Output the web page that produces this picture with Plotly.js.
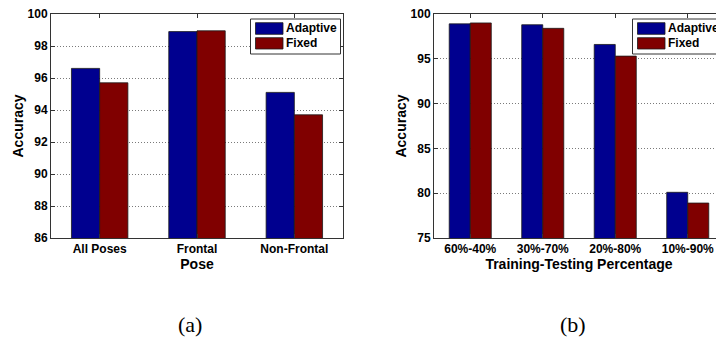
<!DOCTYPE html>
<html>
<head>
<meta charset="utf-8">
<script src="https://cdn.plot.ly/plotly-3.0.1.min.js"></script>
<style>
  html, body { margin: 0; padding: 0; overflow: hidden; background: #fff; }
  #chart { width: 730px; height: 337px; }
</style>
</head>
<body>
<div id="chart"></div>
<script>
// (a) accuracy by pose group
const poseCats = ['All Poses', 'Frontal', 'Non-Frontal'];
const poseAdaptive = [96.6, 98.9, 95.1];
const poseFixed = [95.7, 98.95, 93.7];
const poseTicks = [86, 88, 90, 92, 94, 96, 98, 100];

// (b) accuracy by training/testing split
const splitCats = ['60%-40%', '30%-70%', '20%-80%', '10%-90%'];
const splitAdaptive = [98.9, 98.8, 96.6, 80.1];
const splitFixed = [99.0, 98.4, 95.3, 78.9];
const splitTicks = [75, 80, 85, 90, 95, 100];

const seriesNames = ['Adaptive', 'Fixed'];
const seriesColors = ['#00008f', '#800000'];

const W = 730, H = 337;
const px = v => v / W;
const py = v => 1 - v / H;

const FONT = 'Liberation Sans, Arial, sans-serif';
const edge = { color: '#1a1a1a', width: 0.8 };

const traces = [
  { type: 'bar', x: poseCats, y: poseAdaptive, name: seriesNames[0], xaxis: 'x', yaxis: 'y',
    marker: { color: seriesColors[0], line: edge } },
  { type: 'bar', x: poseCats, y: poseFixed, name: seriesNames[1], xaxis: 'x', yaxis: 'y',
    marker: { color: seriesColors[1], line: edge } },
  { type: 'bar', x: splitCats, y: splitAdaptive, name: seriesNames[0], xaxis: 'x2', yaxis: 'y2',
    marker: { color: seriesColors[0], line: edge } },
  { type: 'bar', x: splitCats, y: splitFixed, name: seriesNames[1], xaxis: 'x2', yaxis: 'y2',
    marker: { color: seriesColors[1], line: edge } }
];

const tickFont = { family: FONT, size: 12, color: '#000', weight: 'bold' };
const titleFont = { family: FONT, size: 14, color: '#000', weight: 'bold' };

function xAxis(domain, anchor, titleText, nCats) {
  return {
    domain: domain, anchor: anchor, type: 'category',
    range: [-0.5, nCats - 0.5],
    showline: true, linecolor: '#333', linewidth: 1, mirror: 'ticks',
    ticks: 'inside', ticklen: 4, tickcolor: '#333',
    showgrid: false, tickfont: tickFont, automargin: false,
    title: { text: titleText, font: titleFont, standoff: 0 }
  };
}

function yAxis(domain, anchor, range, ticks) {
  return {
    domain: domain, anchor: anchor, range: range,
    tickvals: ticks, ticktext: ticks.map(String),
    showline: true, linecolor: '#333', linewidth: 1, mirror: 'ticks',
    ticks: 'inside', ticklen: 4, tickcolor: '#333',
    showgrid: true, gridcolor: '#7a7a7a', gridwidth: 1, griddash: '1px,2px',
    zeroline: false, tickfont: tickFont, automargin: false,
    title: { text: 'Accuracy', font: titleFont, standoff: 0 }
  };
}

const yDom = [py(238), py(14)];

// Legend boxes drawn in paper coordinates
const shapes = [];
const annotations = [];
function legendBox(x0, x1) {
  shapes.push({ type: 'rect', xref: 'paper', yref: 'paper',
    x0: px(x0), x1: px(x1), y0: py(54), y1: py(19),
    line: { color: '#333', width: 1 }, fillcolor: '#fff', layer: 'above' });
  const rows = [[22.7, 34.3], [37.7, 49]];
  seriesNames.forEach((nm, i) => {
    shapes.push({ type: 'rect', xref: 'paper', yref: 'paper',
      x0: px(x0 + 5), x1: px(x0 + 32.5), y0: py(rows[i][1]), y1: py(rows[i][0]),
      line: { color: '#1a1a1a', width: 0.8 }, fillcolor: seriesColors[i], layer: 'above' });
    annotations.push({ xref: 'paper', yref: 'paper', x: px(x0 + 33.5),
      y: py((rows[i][0] + rows[i][1]) / 2), xanchor: 'left', yanchor: 'middle',
      text: nm, showarrow: false, font: { family: FONT, size: 12, color: '#000', weight: 'bold' } });
  });
}
legendBox(250.5, 340.5);
legendBox(632.5, 740);

// Panel captions
const captionFont = { family: 'Liberation Serif, Times New Roman, serif', size: 22, color: '#000' };
annotations.push({ xref: 'paper', yref: 'paper', x: px(190), y: py(324), text: '(a)',
  showarrow: false, xanchor: 'center', yanchor: 'middle', font: captionFont });
annotations.push({ xref: 'paper', yref: 'paper', x: px(572.5), y: py(324), text: '(b)',
  showarrow: false, xanchor: 'center', yanchor: 'middle', font: captionFont });

const layout = {
  width: W, height: H,
  margin: { l: 0, r: 0, t: 0, b: 0 },
  paper_bgcolor: '#fff', plot_bgcolor: '#fff',
  barmode: 'group', bargap: 0.42, bargroupgap: 0,
  showlegend: false,
  xaxis: xAxis([px(51), px(343)], 'y', 'Pose', poseCats.length),
  yaxis: yAxis(yDom, 'x', [86, 100], poseTicks),
  xaxis2: xAxis([px(434), px(724)], 'y2', 'Training-Testing Percentage', splitCats.length),
  yaxis2: yAxis(yDom, 'x2', [75, 100], splitTicks),
  shapes: shapes,
  annotations: annotations
};

Plotly.newPlot('chart', traces, layout, { staticPlot: true, displayModeBar: false });
</script>
</body>
</html>
